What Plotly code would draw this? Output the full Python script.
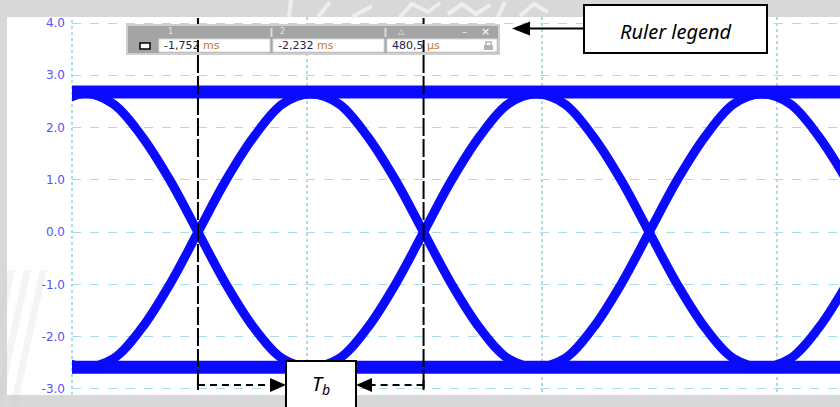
import plotly.graph_objects as go

# --- data -------------------------------------------------------------
# time axis in ms, sampled every ~1/8 bit period
t_ms = [-2.532, -2.472, -2.412, -2.352, -2.292, -2.232, -2.172, -2.112, -2.052, -1.992,
        -1.932, -1.872, -1.812, -1.752, -1.692, -1.632, -1.572, -1.512, -1.452, -1.392,
        -1.332, -1.272, -1.212, -1.152, -1.092, -1.032, -0.972, -0.912, -0.852]
# transition trace starting high on the left
trace_a = [2.45, 2.65, 2.45, 1.84, 1.00, 0.00, -1.00, -1.84, -2.42, -2.58,
           -2.42, -1.84, -1.00, 0.00, 1.00, 1.84, 2.45, 2.64, 2.45, 1.84,
           1.00, 0.00, -1.00, -1.84, -2.42, -2.58, -2.42, -1.84, -1.00]
# transition trace starting low on the left
trace_b = [-2.42, -2.58, -2.42, -1.84, -1.00, 0.00, 1.00, 1.84, 2.45, 2.64,
           2.45, 1.84, 1.00, 0.00, -1.00, -1.84, -2.42, -2.58, -2.42, -1.84,
           -1.00, 0.00, 1.00, 1.84, 2.45, 2.64, 2.45, 1.84, 1.00]
# steady high / low levels
rail_t = [-2.55, -0.80]
rail_high = [2.68, 2.68]
rail_low = [-2.585, -2.585]

# ruler cursors (ms) and readout
cursor_ms = [-2.232, -1.752]
ruler_headers = ["1", "2", "\u25b3"]
ruler_values = [("-1,752", "ms"), ("-2,232", "ms"), ("480,5", "\u00b5s")]

y_ticks = [-3, -2, -1, 0, 1, 2, 3, 4]
y_ticklabels = ["-3.0", "-2.0", "-1.0", "0.0", "1.0", "2.0", "3.0", "4.0"]

# --- figure geometry (pixels) ------------------------------------------
W, H = 840, 407
L, R, T, B = 72, 840, 17, 395
PX_PER_MS = 470


def px(x):
    return (x - L) / (R - L)


def py(y):
    return (B - y) / (B - T)


BLUE = "#0a0aff"
GRID = "#a9dcea"

fig = go.Figure()
for ys in (rail_high, rail_low):
    fig.add_trace(go.Scatter(x=rail_t, y=ys, mode="lines",
                             line=dict(color=BLUE, width=13), hoverinfo="skip"))
for ys in (trace_a, trace_b):
    fig.add_trace(go.Scatter(x=t_ms, y=ys, mode="lines",
                             line=dict(color=BLUE, width=9, shape="spline"),
                             hoverinfo="skip"))

shapes = []
# white panel behind plot and tick labels
shapes.append(dict(type="rect", xref="paper", yref="paper", x0=px(7), x1=px(840),
                   y0=py(395), y1=py(17), fillcolor="white", line_width=0, layer="below"))
# faint watermark strokes in the grey frame
for k in range(3):
    x0 = -22 + k * 16
    shapes.append(dict(type="path", xref="paper", yref="paper",
                       path=f"M {px(x0)},{py(407)} L {px(x0+7)},{py(407)} L {px(x0+37)},{py(270)} L {px(x0+30)},{py(270)} Z",
                       fillcolor="rgba(205,205,205,0.22)", line_width=0, layer="below"))
top_strokes = [
    [(291, 0), (289, 17)],
    [(330, 2), (318, 17)],
    [(352, 17), (372, 6)],
    [(400, 17), (412, 4), (428, 12), (440, 3)],
    [(448, 14), (462, 4), (476, 14), (490, 5)],
    [(505, 2), (498, 17)],
    [(520, 16), (534, 4), (548, 12)],
]
for pts in top_strokes:
    d = "M " + " L ".join(f"{px(x)},{py(y)}" for x, y in pts)
    shapes.append(dict(type="path", xref="paper", yref="paper", path=d,
                       line=dict(color="#eeeeee", width=4), layer="below"))
# left grid border (dotted)
shapes.append(dict(type="line", xref="paper", yref="paper", x0=0, x1=0, y0=0, y1=1,
                   line=dict(color=GRID, width=2, dash="dot"), layer="below"))

# cursor lines
for c in cursor_ms:
    shapes.append(dict(type="line", xref="x", yref="paper", x0=c, x1=c,
                       y0=py(388), y1=py(18),
                       line=dict(color="black", width=2, dash="18px,3px")))
    shapes.append(dict(type="line", xref="x", yref="paper", x0=c, x1=c,
                       y0=py(380), y1=py(390), line=dict(color="black", width=2)))

# T_b dimension arrows
shapes.append(dict(type="line", xref="x", yref="paper", x0=cursor_ms[0],
                   x1=cursor_ms[0] + (272 - 198) / PX_PER_MS,
                   y0=py(385), y1=py(385), line=dict(color="black", width=2, dash="7px,5px")))
shapes.append(dict(type="line", xref="x", yref="paper", x0=cursor_ms[1],
                   x1=cursor_ms[1] - (424 - 370) / PX_PER_MS,
                   y0=py(385), y1=py(385), line=dict(color="black", width=2, dash="7px,5px")))
shapes.append(dict(type="path", xref="paper", yref="paper",
                   path=f"M {px(286)},{py(385)} L {px(270)},{py(378)} L {px(270)},{py(392)} Z",
                   fillcolor="black", line_width=0))
shapes.append(dict(type="path", xref="paper", yref="paper",
                   path=f"M {px(356)},{py(385)} L {px(372)},{py(378)} L {px(372)},{py(392)} Z",
                   fillcolor="black", line_width=0))
shapes.append(dict(type="rect", xref="paper", yref="paper", x0=px(286), x1=px(356),
                   y0=py(412), y1=py(361), fillcolor="white", line=dict(color="black", width=2)))

# ruler readout widget
shapes.append(dict(type="rect", xref="paper", yref="paper", x0=px(127), x1=px(499),
                   y0=py(54), y1=py(25), fillcolor="#a4a4a4", line=dict(color="#cfcfcf", width=2)))
field_x = [(159, 270), (273, 384), (387, 497)]
for x0, x1 in field_x:
    shapes.append(dict(type="rect", xref="paper", yref="paper", x0=px(x0), x1=px(x1),
                       y0=py(52), y1=py(39), fillcolor="white", line=dict(color="#d8d8d8", width=1)))
for xs in (271.5, 385.5):
    shapes.append(dict(type="line", xref="paper", yref="paper", x0=px(xs), x1=px(xs),
                       y0=py(37), y1=py(28), line=dict(color="#dadada", width=2)))
shapes.append(dict(type="rect", xref="paper", yref="paper", x0=px(140), x1=px(150),
                   y0=py(49), y1=py(43), fillcolor="white", line=dict(color="black", width=1.5)))
# lock glyph
shapes.append(dict(type="rect", xref="paper", yref="paper", x0=px(484), x1=px(493),
                   y0=py(50), y1=py(45), fillcolor="#b4b4b4", line_width=0))
shapes.append(dict(type="path", xref="paper", yref="paper",
                   path=f"M {px(486)},{py(45)} L {px(486)},{py(42)} L {px(491)},{py(42)} L {px(491)},{py(45)}",
                   line=dict(color="#b4b4b4", width=1.5)))
# cursor lines visible across the readout fields
for c in cursor_ms:
    shapes.append(dict(type="line", xref="x", yref="paper", x0=c, x1=c,
                       y0=py(52), y1=py(40), line=dict(color="black", width=2)))

# "Ruler legend" callout
shapes.append(dict(type="rect", xref="paper", yref="paper", x0=px(584), x1=px(767),
                   y0=py(53), y1=py(5), fillcolor="white", line=dict(color="black", width=2)))
shapes.append(dict(type="line", xref="paper", yref="paper", x0=px(584), x1=px(528),
                   y0=py(28.5), y1=py(28.5), line=dict(color="black", width=2)))
shapes.append(dict(type="path", xref="paper", yref="paper",
                   path=f"M {px(512)},{py(28.5)} L {px(530)},{py(21.5)} L {px(530)},{py(35.5)} Z",
                   fillcolor="black", line_width=0))


def label(x, y, text, size, color="black", family="DejaVu Sans", xanchor="center"):
    return dict(xref="paper", yref="paper", x=px(x), y=py(y), text=text,
                xanchor=xanchor, yanchor="middle", showarrow=False,
                font=dict(family=family, size=size, color=color))


annotations = []
hdr_x = [170, 282, 401]
for txt, xh in zip(ruler_headers, hdr_x):
    annotations.append(label(xh, 32, txt, 8, "#e4e4e4"))
annotations.append(label(464, 31, "\u2013", 10, "#f0f0f0"))
annotations.append(label(485, 31.5, "<b>\u00d7</b>", 11, "#f0f0f0"))
for (num, unit), (x0, x1) in zip(ruler_values, field_x):
    annotations.append(label(x0 + 3, 45.5,
                             f"<span style='color:#22224a'>{num}</span> "
                             f"<span style='color:#c27a2e'>{unit}</span>",
                             11, xanchor="left"))
annotations.append(label(675.5, 31, "<i>Ruler legend</i>", 20, family="Noto Sans"))
annotations.append(label(321, 384, "<i>T<sub>b</sub></i>", 20, family="Noto Sans"))

fig.update_layout(
    width=W, height=H,
    margin=dict(l=L, r=W - R, t=T, b=H - B),
    paper_bgcolor="#d8d8d8",
    plot_bgcolor="rgba(0,0,0,0)",
    showlegend=False,
    shapes=shapes,
    annotations=annotations,
    xaxis=dict(range=[-2.5, -2.5 + (R - L) / PX_PER_MS], dtick=0.5, tick0=-2.5,
               showgrid=True, gridcolor=GRID, griddash="dot", gridwidth=2,
               zeroline=False, showticklabels=False, showline=False),
    yaxis=dict(range=[-3.115, 4.115], tickvals=y_ticks, ticktext=y_ticklabels,
               showgrid=True, gridcolor=GRID, griddash="dash", gridwidth=1,
               zeroline=False, showline=False, ticks="", ticklabelstandoff=6,
               tickfont=dict(family="DejaVu Sans", size=12, color="#5252ff")),
)

fig.write_html("out.html")
